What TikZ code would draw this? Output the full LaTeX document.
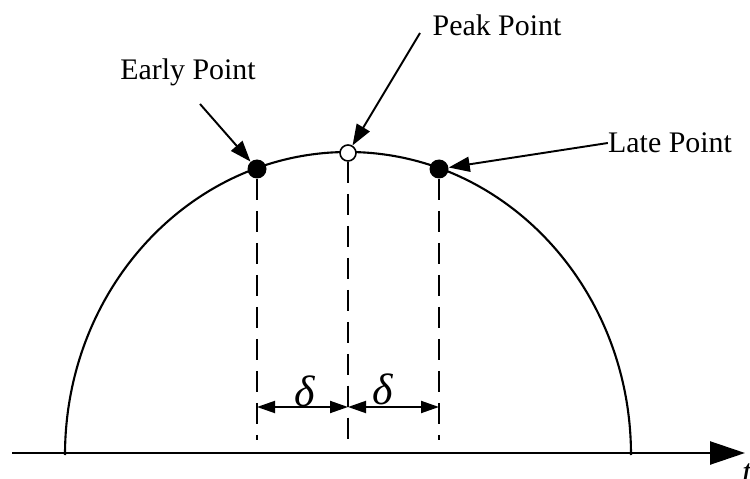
\documentclass[tikz,border=0pt]{standalone}
\usepackage{fontspec}
\setmainfont{Liberation Serif}
\usetikzlibrary{positioning, arrows.meta}

\begin{document}
\begin{tikzpicture}[
    x=0.02cm, y=-0.02cm,
    lbl/.style={font=\fontsize{17}{20}\selectfont, inner sep=0pt},
    dot/.style={circle, fill=black, minimum width=0.38cm, minimum height=0.34cm, inner sep=0pt},
    hollow/.style={circle, draw=black, fill=white, line width=0.9pt, minimum size=0.32cm, inner sep=0pt},
    ptr/.style={-{Triangle[length=0.42cm, width=0.3cm]}, line width=1.1pt},
    dim/.style={{Triangle[length=0.36cm, width=0.24cm]}-{Triangle[length=0.36cm, width=0.24cm]}, line width=1.1pt},
    axis/.style={-{Triangle[length=0.7cm, width=0.46cm]}, line width=1.4pt},
    guide/.style={line width=1.1pt, dash pattern=on 0.42cm off 0.22cm},
  ]
    \useasboundingbox (0,0) rectangle (750,479);

    % axis and curve
    \coordinate (ax0) at (12,453);
    \coordinate (ax1) at (745,453);
    \draw[axis] (ax0) -- (ax1);
    \node[lbl, font=\fontsize{20}{22}\selectfont\itshape] (t) at (747,474) {t};
    \draw[line width=1.2pt] (65,455) arc[start angle=180, end angle=360, x radius=283, y radius=303];

    % points on the curve
    \node[dot] (e) at (257,169) {};
    \node[dot] (l) at (439,169) {};
    \node[hollow] (p) at (348,153) {};

    % guide lines
    \coordinate (eb) at (257,440);
    \coordinate (pb) at (348,440);
    \coordinate (lb) at (439,440);
    \draw[guide] (e.south) -- (eb);
    \draw[guide] (p.south) -- (pb);
    \draw[guide] (l.south) -- (lb);

    % delta spacing
    \coordinate (de) at (257,407);
    \coordinate (dp) at (348,407);
    \coordinate (dl) at (439,407);
    \draw[dim] (de) -- (dp);
    \draw[dim] (dp) -- (dl);
    \node[lbl, font=\fontsize{25}{27}\selectfont\itshape] (d1) at (305,391) {δ};
    \node[lbl, font=\fontsize{25}{27}\selectfont\itshape] (d2) at (383,389) {δ};

    % labels
    \node[lbl] (early) at (188,72) {Early Point};
    \node[lbl] (peak) at (497,25) {Peak Point};
    \node[lbl] (late) at (670,143) {Late Point};
    \coordinate (et) at (200,104);
    \coordinate (pt) at (420,33);
    \draw[ptr] (et) -- (e);
    \draw[ptr] (pt) -- (p);
    \draw[ptr] (late.west) -- (l);
\end{tikzpicture}
\end{document}
